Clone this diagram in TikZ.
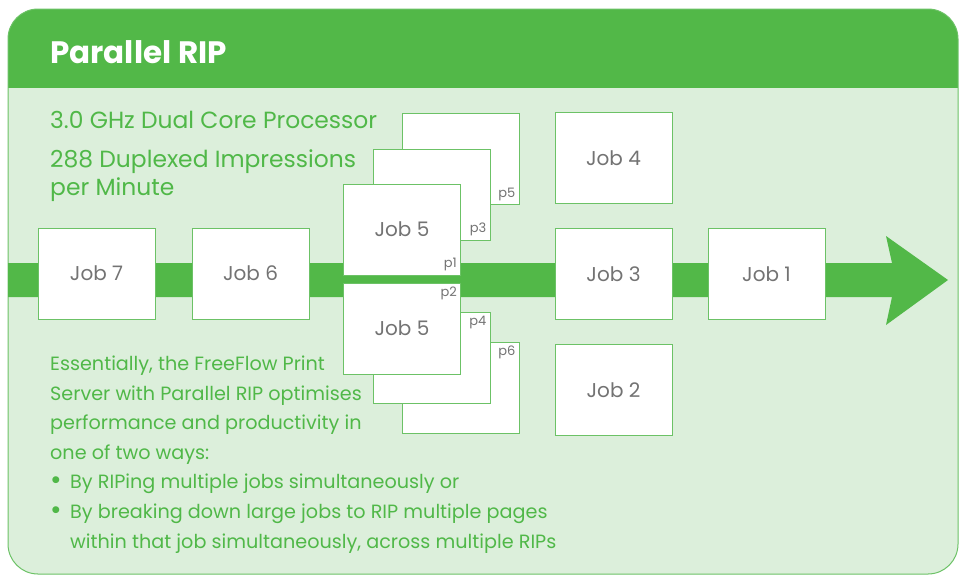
\documentclass[tikz,border=0pt]{standalone}
\usepackage{fontspec}
\setmainfont{Poppins}
\usetikzlibrary{positioning}

\definecolor{hdrgreen}{RGB}{82,184,72}
\definecolor{bodygreen}{RGB}{220,239,219}
\definecolor{linegreen}{RGB}{108,194,102}
\definecolor{txtgreen}{RGB}{80,184,72}
\definecolor{jobgray}{RGB}{115,115,115}

\newcommand{\bigbull}{\makebox[20pt][l]{\raisebox{-1pt}{\fontsize{28}{28}\selectfont\textbullet}}}

\tikzset{
  jobbox/.style={draw=linegreen,fill=white,line width=1pt,minimum width=117pt,minimum height=91pt,
    inner sep=0pt,text=jobgray,font=\fontsize{20}{24}\selectfont},
  pagebox/.style={jobbox},
  pagelbl/.style={text=jobgray,font=\fontsize{13}{15}\selectfont,inner sep=4pt},
  greentxt/.style={text=txtgreen,inner sep=0pt,align=left}
}

\begin{document}
\begin{tikzpicture}[x=1pt,y=-1pt]
\useasboundingbox (0,0) rectangle (965,576);
% panel
\fill[bodygreen,rounded corners=30pt] (8,9) rectangle (958,574);
\begin{scope}
  \clip[rounded corners=30pt] (8,9) rectangle (958,574);
  \fill[hdrgreen] (8,9) rectangle (958,88);
\end{scope}
\draw[linegreen,line width=1pt,rounded corners=30pt] (8,9) rectangle (958,574);
\node[anchor=base west,text=white,inner sep=0pt,font=\fontsize{31}{36}\selectfont\bfseries] (title) at (50,63) {Parallel RIP};

% processor text (base = last line)
\node[greentxt,anchor=base west,font=\fontsize{23.4}{28}\selectfont] (cpu) at (50,128) {3.0 GHz Dual Core Processor};
\node[greentxt,anchor=base west,font=\fontsize{23.4}{28}\selectfont] (ppm) at (50,195) {288 Duplexed Impressions\\per Minute};

% pipeline arrow
\fill[hdrgreen] (8,263) -- (892,263) -- (886,236) -- (948,280) -- (886,325) -- (892,297) -- (8,297) -- cycle;

% jobs on the pipe
\node[jobbox] (job7) at (96.5,273.5) {Job 7};
\node[jobbox,right=36pt of job7] (job6) {Job 6};
\node[jobbox] (job3) at (613.5,274) {Job 3};
\node[jobbox,right=35pt of job3] (job1) {Job 1};
\node[jobbox,above=24pt of job3] (job4) {Job 4};
\node[jobbox,below=24pt of job3] (job2) {Job 2};

% job 5 split in pages
\node[pagebox] (p5) at (460.5,159) {};
\node[pagebox] (p3) at (431.5,194.5) {};
\node[pagebox] (p1) at (402,229.5) {Job 5};
\node[pagebox] (p6) at (460.5,388) {};
\node[pagebox] (p4) at (431.5,358) {};
\node[pagebox] (p2) at (402,328.5) {Job 5};
\foreach \p in {p1,p3,p5}
  \node[pagelbl,anchor=south east] at (\p.south east) {\p};
\foreach \p in {p2,p4,p6}
  \node[pagelbl,anchor=north east] at (\p.north east) {\p};

% description (base = last line)
\node[greentxt,anchor=base west,font=\fontsize{19.2}{29.6}\selectfont] (desc) at (50,548)
  {Essentially, the FreeFlow Print\\
   Server with Parallel RIP optimises\\
   performance and productivity in\\
   one of two ways:\\
   \bigbull By RIPing multiple jobs simultaneously or\\
   \bigbull By breaking down large jobs to RIP multiple pages\\
   \hspace*{20pt}within that job simultaneously, across multiple RIPs};
\end{tikzpicture}
\end{document}
